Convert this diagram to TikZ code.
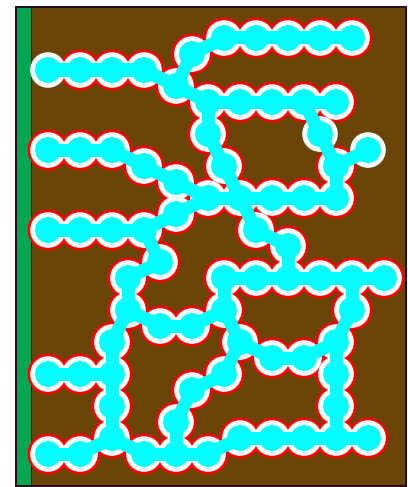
\documentclass[tikz,border=0pt]{standalone}
\definecolor{soil}{HTML}{6B4407}
\definecolor{strip}{HTML}{00A651}
\definecolor{frameline}{HTML}{2B0A22}
\definecolor{pipe}{HTML}{00FFFF}
\definecolor{rim}{HTML}{FF0000}
\tikzset{
  rimdisc/.style={fill=rim},
  halo/.style={fill=white},
  core/.style={fill=pipe},
  edge/.style={draw=pipe, line width=13pt, line cap=round}
}
\begin{document}
\begin{tikzpicture}[x=1pt,y=-1pt]
\useasboundingbox (0,0) rectangle (407,487);
% background
\fill[soil] (16,7) rectangle (406,486);
\fill[strip] (16,7) rectangle (31.5,486);
\draw[frameline, line width=1pt] (31.5,7) -- (31.5,486);
\draw[frameline, line width=1.6pt] (16,486) -- (16,7) -- (406,7) -- (406,486) -- cycle;
% nodes
\foreach \n/\x/\y in {
 1/224/38, 2/256/38, 3/288/38, 4/320/38, 5/352/38, 6/192/54,
 7/48/70, 8/80/70, 9/112/70, 10/144/70, 11/176/86,
 12/208/102, 13/240/102, 14/272/102, 15/304/102, 16/336/102,
 17/208/134, 18/320/134, 19/368/150,
 20/48/150, 21/80/150, 22/112/150, 23/144/166, 24/176/182, 25/224/166, 26/336/166,
 27/208/198, 28/240/198, 29/272/198, 30/304/198, 31/336/198, 32/176/214,
 33/48/230, 34/80/230, 35/112/230, 36/144/230, 37/256/230,
 38/160/262, 39/288/246,
 40/128/278, 41/224/278, 42/256/278, 43/288/278, 44/320/278, 45/352/278, 46/384/278,
 47/128/310, 48/224/310, 49/352/310, 50/160/326, 51/192/326,
 52/112/342, 53/240/342, 54/336/342, 55/272/358, 56/304/358,
 57/48/374, 58/80/374, 59/112/374, 60/224/374, 61/336/374,
 62/192/390, 63/112/406, 64/336/406, 65/176/422,
 66/112/438, 67/240/438, 68/272/438, 69/304/438, 70/336/438, 71/368/438,
 72/48/454, 73/80/454, 74/144/454, 75/176/454, 76/208/454}
 \coordinate (n\n) at (\x,\y);
% red rims
\foreach \n in {1,2,3,4,5,6,8,9,10,11,12,13,14,15,16,17,20,21,22,23,24,25,26,27,28,29,30,31,32,33,34,35,36,37,38,39,40,41,42,43,44,45,46,47,48,49,50,51,52,53,54,55,56,57,58,59,60,61,62,63,64,65,66,67,68,69,70,71,72,73,74,75,76}
 \fill[rimdisc] (n\n) circle[radius=20.5pt];
% white halos
\foreach \n in {1,...,76}
 \fill[halo] (n\n) circle[radius=17.8pt];
% connectors
\foreach \a/\b in {1/2,2/3,3/4,4/5,6/1,11/6,10/11,7/8,8/9,9/10,11/12,12/13,13/14,14/15,15/16,12/17,15/18,18/26,26/19,26/31,17/25,25/28,28/37,37/39,39/43,20/21,21/22,22/23,23/24,24/27,32/27,27/28,28/29,29/30,30/31,33/34,34/35,35/36,36/32,36/38,38/40,40/47,47/50,50/51,51/48,48/41,41/42,42/43,43/44,44/45,45/46,45/49,49/54,48/53,53/55,55/56,56/54,54/61,61/64,64/70,53/60,60/62,62/65,65/75,47/52,52/59,57/58,58/59,59/63,63/66,72/73,73/66,66/74,74/75,75/76,76/67,67/68,68/69,69/70,70/71}
 \draw[edge] (n\a) -- (n\b);
% cyan cores
\foreach \n in {1,...,76}
 \fill[core] (n\n) circle[radius=13pt];
\end{tikzpicture}
\end{document}
